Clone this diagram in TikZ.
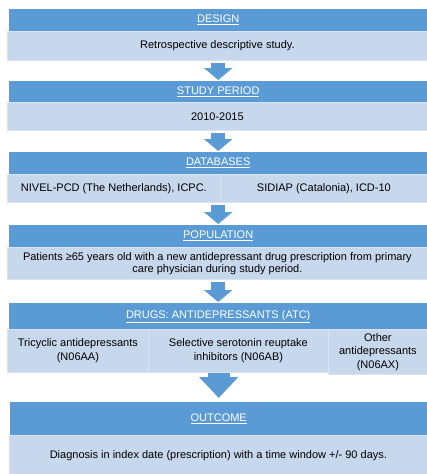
\documentclass[tikz,border=0pt]{standalone}
\usepackage{fontspec}
\setmainfont{Liberation Sans}
\usepackage{xcolor}
\usetikzlibrary{calc}
\usetikzlibrary{positioning}
\usetikzlibrary{arrows.meta}
\definecolor{headblue}{HTML}{5B9BD5}
\definecolor{bodyblue}{HTML}{C7D7EC}
\definecolor{edgeblue}{HTML}{DAE4F1}

\begin{document}
\begin{tikzpicture}[x=1pt, y=-1pt,
		head/.style={rectangle, fill=headblue, text=white, anchor=north west, inner sep=0pt, minimum width=418pt, minimum height=22pt, font=\fontsize{11}{12}\selectfont},
		cell/.style={rectangle, fill=bodyblue, draw=edgeblue, line width=0.8pt, anchor=north west, inner sep=0pt, align=center, font=\fontsize{11}{12.5}\selectfont},
		bigarrow/.style={draw=headblue, line width=14pt, -{Triangle[width=28pt, length=12pt]}, shorten <=2pt, shorten >=1pt}]
			\useasboundingbox (0,0) rectangle (427,474);
			
			\node[head] (design) at (9,9) {\underline{DESIGN}};
			\node[cell, minimum width=420pt, minimum height=29pt] (designtxt) at (7,31) {Retrospective descriptive study.};
			\node[head] (period) at (9,81) {\underline{STUDY PERIOD}};
			\node[cell, minimum width=420pt, minimum height=28pt] (periodtxt) at (7,102) {2010-2015};
			\node[head] (databases) at (9,152) {\underline{DATABASES}};
			\node[cell, minimum width=213pt, minimum height=28pt] (nivel) at (7,174) {NIVEL-PCD (The Netherlands), ICPC.};
			\node[cell, minimum width=207pt, minimum height=28pt] (sidiap) at (220,174) {SIDIAP (Catalonia), ICD-10};
			\node[head] (population) at (9,225) {\underline{POPULATION}};
			\node[cell, minimum width=420pt, minimum height=32pt, font=\fontsize{11}{12}\selectfont] (populationtxt) at (7,247) {Patients ≥65 years old with a new antidepressant drug prescription from primary\\care physician during study period.};
			\node[head, minimum height=26pt] (drugs) at (9,303) {\underline{DRUGS: ANTIDEPRESSANTS (ATC)}};
			\node[cell, minimum width=141pt, minimum height=43pt, font=\fontsize{11}{14}\selectfont] (tca) at (7,329) {Tricyclic antidepressants\\(N06AA)};
			\node[cell, minimum width=180pt, minimum height=43pt, font=\fontsize{11}{14}\selectfont] (ssri) at (148,329) {Selective serotonin reuptake\\inhibitors (N06AB)};
			\node[cell, minimum width=99pt, minimum height=45pt, font=\fontsize{11}{13.5}\selectfont] (other) at (328,329) {Other\\antidepressants\\(N06AX)};
			\node[head, minimum width=417pt, minimum height=33pt] (outcome) at (10,402) {\underline{OUTCOME}};
			\node[cell, minimum width=418pt, minimum height=40pt] (outcometxt) at (9,435) {Diagnosis in index date (prescription) with a time window +/- 90 days.};
			
			% Draw arrows
			\draw[bigarrow] (period.north |- designtxt.south) -- (period.north);
			\draw[bigarrow] (databases.north |- periodtxt.south) -- (databases.north);
			\draw[bigarrow] (population.north |- nivel.south) -- (population.north);
			\draw[bigarrow] (drugs.north |- populationtxt.south) -- (drugs.north);
			\draw[bigarrow, line width=22pt, -{Triangle[width=38pt, length=21pt]}, shorten <=0pt, shorten >=4pt] (outcome.north |- ssri.south) -- (outcome.north);
		\end{tikzpicture}
\end{document}
